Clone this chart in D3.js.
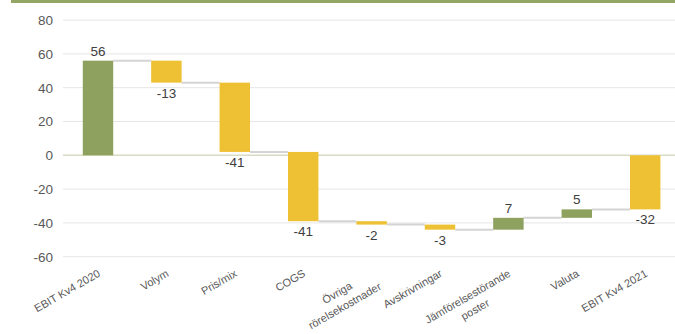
<!DOCTYPE html>
<html>
<head>
<meta charset="utf-8">
<script src="https://cdn.jsdelivr.net/npm/d3@7"></script>
<style>
  body { margin: 0; background: #fff; }
  svg { display: block; font-family: "Liberation Sans", Arial, sans-serif; }
  .tick text { fill: #595959; font-size: 13.5px; }
  .grid line { stroke: #e6e6e6; }
</style>
</head>
<body>
<div id="chart"></div>
<script>
// EBIT bridge Kv4 2020 -> Kv4 2021 (MSEK)
const categories = ["EBIT Kv4 2020", "Volym", "Pris/mix", "COGS", "Övriga\nrörelsekostnader",
    "Avskrivningar", "Jämförelsestörande\nposter", "Valuta", "EBIT Kv4 2021"];
const values = [56, -13, -41, -41, -2, -3, 7, 5, -32];
const isTotal = [true, false, false, false, false, false, false, false, true];
const yTicks = [-60, -40, -20, 0, 20, 40, 60, 80];

const width = 675, height = 334;
const green = "#8ea15e", yellow = "#eec034";

// running totals for the waterfall
let run = 0;
const bars = categories.map((c, i) => {
    let start, end;
    if (isTotal[i]) { start = 0; end = values[i]; run = values[i]; }
    else { start = run; end = run + values[i]; run = end; }
    return { cat: c, value: values[i], start: start, end: end, total: isTotal[i] };
});

const svg = d3.select("#chart").append("svg")
    .attr("width", width)
    .attr("height", height);

// green header strip (title cut off at the top)
svg.append("rect").attr("x", 11).attr("y", 0).attr("width", width - 11).attr("height", 3)
    .attr("fill", "#93a663");

const x = d3.scaleBand()
    .domain(categories)
    .range([63.8, 679.4])
    .paddingInner(0.555)
    .paddingOuter(0.2775);

const y = d3.scaleLinear()
    .domain([-60, 80])
    .range([256.7, 20.1]);

// gridlines
svg.append("g").attr("class", "grid")
    .selectAll("line")
    .data(yTicks.filter(d => d !== 0))
    .join("line")
    .attr("x1", 63).attr("x2", width)
    .attr("y1", d => y(d)).attr("y2", d => y(d));

// y axis labels (plain hyphen minus like the original)
const yAxis = d3.axisLeft(y).tickValues(yTicks).tickSize(0).tickPadding(10)
    .tickFormat(d => String(d));
svg.append("g")
    .attr("transform", "translate(63,0)")
    .call(yAxis)
    .call(g => g.select(".domain").remove());

// zero line
svg.append("line")
    .attr("x1", 63).attr("x2", width)
    .attr("y1", y(0)).attr("y2", y(0))
    .attr("stroke", "#d8dcc2").attr("stroke-width", 1.5);

// connectors
svg.append("g").selectAll("line")
    .data(bars.slice(0, -1))
    .join("line")
    .attr("x1", (d, i) => x(categories[i]) + x.bandwidth())
    .attr("x2", (d, i) => x(categories[i + 1]))
    .attr("y1", d => y(d.end)).attr("y2", d => y(d.end))
    .attr("stroke", "#d4d4d4").attr("stroke-width", 2);

// bars
svg.append("g").selectAll("rect")
    .data(bars)
    .join("rect")
    .attr("x", d => x(d.cat))
    .attr("width", x.bandwidth())
    .attr("y", d => y(Math.max(d.start, d.end)))
    .attr("height", d => Math.abs(y(d.start) - y(d.end)))
    .attr("fill", d => d.value >= 0 ? green : yellow);

// data labels
svg.append("g").selectAll("text")
    .data(bars)
    .join("text")
    .attr("x", d => x(d.cat) + x.bandwidth() / 2)
    .attr("y", d => d.value >= 0 ? y(Math.max(d.start, d.end)) - 5 : y(Math.min(d.start, d.end)) + 15)
    .attr("text-anchor", "middle")
    .attr("fill", "#404040")
    .attr("font-size", "13.5px")
    .text(d => d.value);

// rotated category labels
const lh = 15;
const labels = svg.append("g").selectAll("g")
    .data(categories)
    .join("g")
    .attr("transform", d => `translate(${x(d) + x.bandwidth() / 2 - 2},267) rotate(-30)`);

labels.each(function(d) {
    const g = d3.select(this);
    const lines = d.split("\n");
    const texts = lines.map((l, i) => g.append("text")
        .attr("y", 10 + i * lh)
        .attr("fill", "#595959")
        .attr("font-size", "11px")
        .text(l));
    const w = d3.max(texts, t => t.node().getComputedTextLength());
    texts.forEach(t => t.attr("text-anchor", "middle").attr("x", -w / 2));
});
</script>
</body>
</html>
